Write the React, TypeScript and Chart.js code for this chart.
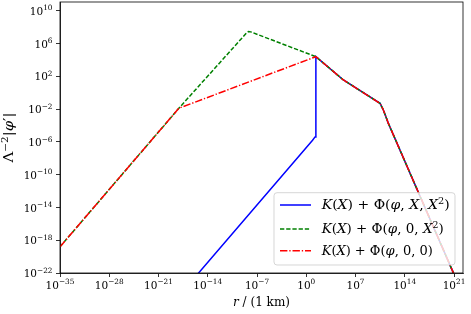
import React, { useEffect, useRef } from 'react';
import { Chart, registerables } from 'chart.js';

Chart.register(...registerables);

// ---- data ----
const xTicks = [1e-35, 1e-28, 1e-21, 1e-14, 1e-7, 1, 1e7, 1e14, 1e21];
const yTicks = [1e-22, 1e-18, 1e-14, 1e-10, 1e-6, 1e-2, 1e2, 1e6, 1e10];
const xMin = 1e-35;
const xMax = 1.9e22;
const yMin = 1e-22;
const yMax = 1.15e11;

const seriesLabels = [
  'K(X) + Φ(φ, X, X^{2})',
  'K(X) + Φ(φ, 0, X^{2})',
  'K(X) + Φ(φ, 0, 0)',
];
const xTitle = 'r / (1 \\rm{km})';
const yTitle = 'Λ^{−2}|φ′|';

const blueR = [1e-16, 7.9, 17.8, 23.4, 23.4, 1.9e5, 3.1e10, 9.1e10, 4.7e11, 7.9e20, 4e21];
const blueY = [2e-23, 1.6e-6, 4e-6, 1e-5, 2.45e4, 35.5, 0.05, 7.8e-3, 1.8e-4, 1.1e-22, 4.4e-24];

const greenR = [1e-35, 7.9e-19, 3.2e-9, 6.3e-9, 1.3e-8, 23.4, 1.9e5, 3.1e10, 9.1e10, 4.7e11, 7.9e20, 4e21];
const greenY = [1.58e-19, 0.0126, 1.9e7, 2.9e7, 2.6e7, 2.45e4, 35.5, 0.05, 7.8e-3, 1.8e-4, 1.1e-22, 4.4e-24];

const redR = [1e-35, 7.9e-19, 23.4, 1.9e5, 3.1e10, 9.1e10, 4.7e11, 7.9e20, 4e21];
const redY = [1.58e-19, 0.0126, 2.45e4, 35.5, 0.05, 7.8e-3, 1.8e-4, 1.1e-22, 4.4e-24];

const colors = ['#0000ff', '#008000', '#ff0000'];
const dashes: number[][] = [[], [4.3, 1.9], [7.4, 1.9, 1.3, 1.9]];

// ---- math text helper ----
const FAMILY = '"DejaVu Serif", serif';
type Tok = { t: string; it: boolean; sup: boolean };

function parseMath(s: string): Tok[] {
  const out: Tok[] = [];
  let i = 0;
  while (i < s.length) {
    if (s.startsWith('^{', i)) {
      const j = s.indexOf('}', i);
      out.push({ t: s.slice(i + 2, j), it: false, sup: true });
      i = j + 1;
      continue;
    }
    if (s.startsWith('\\rm{', i)) {
      const j = s.indexOf('}', i);
      out.push({ t: s.slice(i + 4, j), it: false, sup: false });
      i = j + 1;
      continue;
    }
    const c = s[i];
    out.push({ t: c, it: /[A-Za-zφ]/.test(c), sup: false });
    i++;
  }
  return out;
}

function fontFor(tk: Tok, size: number) {
  const fs = tk.sup ? size * 0.7 : size;
  return `${tk.it ? 'italic ' : ''}${fs}px ${FAMILY}`;
}

function drawMath(
  ctx: CanvasRenderingContext2D,
  s: string,
  x: number,
  y: number,
  size: number,
  align: 'left' | 'center' | 'right',
  fitWidth?: number
) {
  const toks = parseMath(s);
  const widths = toks.map((tk) => {
    ctx.font = fontFor(tk, size);
    return ctx.measureText(tk.t).width;
  });
  const total = widths.reduce((a, b) => a + b, 0);
  const sx = fitWidth ? fitWidth / total : 1;
  const W = total * sx;
  let cx = align === 'left' ? x : align === 'center' ? x - W / 2 : x - W;
  ctx.save();
  ctx.textBaseline = 'alphabetic';
  ctx.textAlign = 'left';
  ctx.fillStyle = '#000';
  toks.forEach((tk, i) => {
    ctx.font = fontFor(tk, size);
    const yy = tk.sup ? y - size * 0.42 : y;
    ctx.save();
    ctx.translate(cx, yy);
    ctx.scale(sx, 1);
    ctx.fillText(tk.t, 0, 0);
    ctx.restore();
    cx += widths[i] * sx;
  });
  ctx.restore();
}

function expLabel(v: number) {
  const e = Math.round(Math.log10(v));
  const es = e < 0 ? '−' + Math.abs(e) : String(e);
  return `10^{${es}}`;
}

const decorPlugin = {
  id: 'decor',
  afterDatasetsDraw(chart: any) {
    const ctx: CanvasRenderingContext2D = chart.ctx;
    const a = chart.chartArea;
    ctx.save();
    ctx.strokeStyle = '#000';
    ctx.lineWidth = 0.8;
    ctx.strokeRect(a.left, a.top, a.right - a.left, a.bottom - a.top);
    ctx.restore();
  },
  afterDraw(chart: any) {
    const ctx: CanvasRenderingContext2D = chart.ctx;
    const a = chart.chartArea;
    const xs = chart.scales.x;
    const ys = chart.scales.y;

    // tick labels
    xTicks.forEach((v) => {
      drawMath(ctx, expLabel(v), xs.getPixelForValue(v), a.bottom + 15.5, 10.5, 'center');
    });
    yTicks.forEach((v) => {
      drawMath(ctx, expLabel(v), 52.5, ys.getPixelForValue(v) + 4.2, 10.5, 'right');
    });

    // axis titles
    drawMath(ctx, xTitle, (a.left + a.right) / 2, 305.5, 12, 'center', 57);
    ctx.save();
    ctx.translate(13, (a.top + a.bottom) / 2);
    ctx.rotate(-Math.PI / 2);
    drawMath(ctx, yTitle, 0, 0, 12.5, 'center', 50);
    ctx.restore();

    // legend
    const lx = 274, ly = 192.7, lw = 181, lh = 72.3;
    ctx.save();
    ctx.beginPath();
    (ctx as any).roundRect(lx, ly, lw, lh, 3);
    ctx.fillStyle = 'rgba(255,255,255,0.8)';
    ctx.fill();
    ctx.strokeStyle = 'rgba(204,204,204,0.8)';
    ctx.lineWidth = 1;
    ctx.stroke();
    ctx.restore();
    const rowsY = [205, 229, 250.7];
    const fitW = [128, 122, 111];
    seriesLabels.forEach((lab, i) => {
      ctx.save();
      ctx.strokeStyle = colors[i];
      ctx.lineWidth = 1.5;
      ctx.setLineDash(dashes[i]);
      ctx.beginPath();
      ctx.moveTo(280, rowsY[i]);
      ctx.lineTo(311, rowsY[i]);
      ctx.stroke();
      ctx.restore();
      drawMath(ctx, lab, 321.7, rowsY[i] + 4.3, 12, 'left', fitW[i]);
    });
  },
};

function mk(r: number[], y: number[]) {
  return r.map((v, i) => ({ x: v, y: y[i] }));
}

export default function App() {
  const ref = useRef<HTMLCanvasElement | null>(null);
  useEffect(() => {
    if (!ref.current) return;
    const series = [mk(blueR, blueY), mk(greenR, greenY), mk(redR, redY)];
    const chart = new Chart(ref.current, {
      type: 'line',
      data: {
        datasets: series.map((d, i) => ({
          label: seriesLabels[i],
          data: d,
          borderColor: colors[i],
          backgroundColor: colors[i],
          borderWidth: 1.5,
          borderDash: dashes[i],
          pointRadius: 0,
          fill: false,
          tension: 0,
          order: 3 - i,
        })),
      },
      options: {
        animation: false,
        responsive: false,
        events: [],
        layout: { padding: { top: 2, right: 8, left: 0, bottom: 0 } },
        plugins: { legend: { display: false }, tooltip: { enabled: false } },
        scales: {
          x: {
            type: 'logarithmic',
            min: xMin,
            max: xMax,
            afterBuildTicks: (s: any) => {
              s.ticks = xTicks.map((v) => ({ value: v }));
            },
            afterFit: (s: any) => {
              s.height = 41;
            },
            ticks: { display: false, autoSkip: false },
            grid: { drawOnChartArea: false, drawTicks: true, tickLength: 4, color: '#000', lineWidth: 0.8 },
            border: { display: true, color: '#000', width: 0.8 },
          },
          y: {
            type: 'logarithmic',
            min: yMin,
            max: yMax,
            afterBuildTicks: (s: any) => {
              s.ticks = yTicks.map((v) => ({ value: v }));
            },
            afterFit: (s: any) => {
              s.width = 60;
            },
            ticks: { display: false, autoSkip: false },
            grid: { drawOnChartArea: false, drawTicks: true, tickLength: 4, color: '#000', lineWidth: 0.8 },
            border: { display: true, color: '#000', width: 0.8 },
          },
        },
      } as any,
      plugins: [decorPlugin],
    });
    return () => chart.destroy();
  }, []);
  return (
    <div style={{ position: 'fixed', left: 0, top: 0, width: 471, height: 314, background: '#fff' }}>
      <canvas ref={ref} width={471} height={314} style={{ width: 471, height: 314, display: 'block' }} />
    </div>
  );
}
